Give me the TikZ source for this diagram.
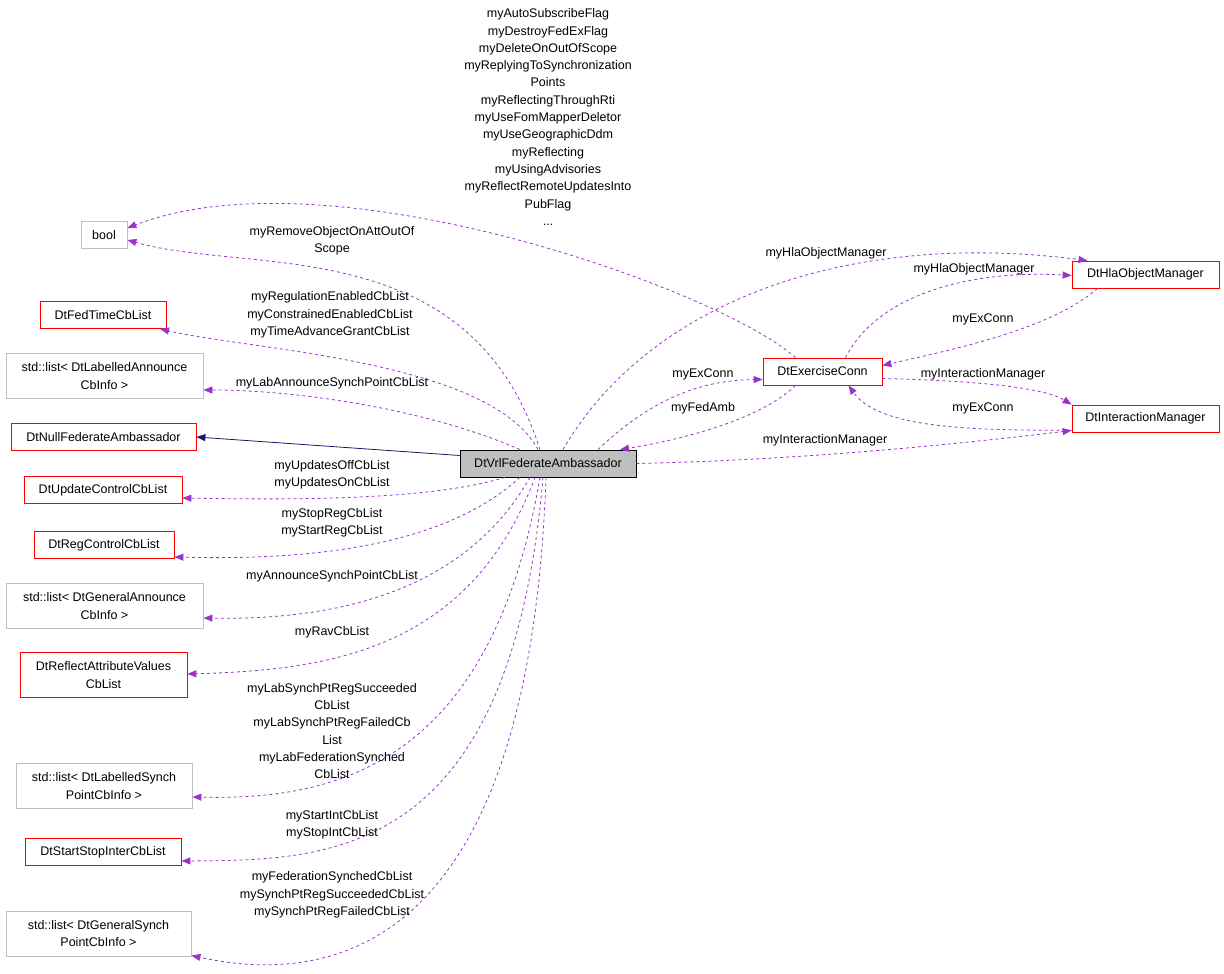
\documentclass[tikz,border=0pt]{standalone}
\usepackage{fontspec}
\setmainfont{Liberation Sans}
\usetikzlibrary{arrows.meta}
\definecolor{edgep}{HTML}{9A32CD}
\definecolor{navy}{HTML}{191970}
\definecolor{gbord}{HTML}{BFBFBF}
\begin{document}
\begin{tikzpicture}[x=1pt,y=-1pt,
  every node/.style={font=\fontsize{12.5}{17.3}\selectfont,inner sep=0pt},
  box/.style={draw=red,line width=0.8pt,minimum height=27pt,align=center,inner xsep=4pt},
  gbox/.style={draw=gbord,line width=0.8pt,minimum height=27pt,align=center,inner xsep=4pt},
  lbl/.style={align=center},
  dep/.style={draw=edgep,dashed,line width=0.8pt,-{Triangle[length=9pt,width=7pt]}},
  inh/.style={draw=navy,line width=0.8pt,-{Triangle[length=9pt,width=7pt]}}]
\useasboundingbox (0,0) rectangle (1224,974);
\node[gbox,minimum width=46pt] (bool) at (104,235) {bool};
\node[box,minimum width=126pt] (fed) at (103,315) {DtFedTimeCbList};
\node[gbox,minimum width=197pt,minimum height=45pt] (la) at (104.5,376) {std::list< DtLabelledAnnounce\\CbInfo >};
\node[box,minimum width=185pt] (null) at (103.5,437) {DtNullFederateAmbassador};
\node[box,minimum width=158pt] (upd) at (103,490) {DtUpdateControlCbList};
\node[box,minimum width=140pt] (reg) at (104,545) {DtRegControlCbList};
\node[gbox,minimum width=197pt,minimum height=45pt] (ga) at (104.5,606) {std::list< DtGeneralAnnounce\\CbInfo >};
\node[box,minimum width=167pt,minimum height=45pt] (rf) at (103.5,675) {DtReflectAttributeValues\\CbList};
\node[gbox,minimum width=176pt,minimum height=45pt] (ls) at (104,786) {std::list< DtLabelledSynch\\PointCbInfo >};
\node[box,minimum width=156pt] (ss) at (103,852) {DtStartStopInterCbList};
\node[gbox,minimum width=185pt,minimum height=45pt] (gs) at (98.5,933.5) {std::list< DtGeneralSynch\\PointCbInfo >};
\node[draw=black,fill=gbord,line width=0.8pt,minimum width=176pt,minimum height=27pt] (vrl) at (548,463.5) {DtVrlFederateAmbassador};
\node[box,minimum width=119pt] (ex) at (822.5,371.5) {DtExerciseConn};
\node[box,minimum width=147pt] (hla) at (1145.5,274.5) {DtHlaObjectManager};
\node[box,minimum width=147pt] (im) at (1145.5,418.5) {DtInteractionManager};

\draw[dep] ([xshift=-27pt]ex.north) .. controls (720,290) and (330,150) .. ([yshift=7pt]bool.east);
\draw[dep] ([xshift=-8pt]vrl.north) .. controls (470,230) and (250,275) .. ([yshift=-5pt]bool.east);
\draw[dep] ([xshift=-10pt]vrl.north) .. controls (490,360) and (250,350) .. ([xshift=57pt]fed.south);
\draw[dep] ([xshift=-28pt]vrl.north) .. controls (430,410) and (300,390) .. ([yshift=-14pt]la.east);
\draw[inh] ([yshift=8pt]vrl.west) -- (null.east);
\draw[dep] ([xshift=-43pt]vrl.south) .. controls (430,500) and (300,500) .. ([yshift=-8pt]upd.east);
\draw[dep] ([xshift=-28pt]vrl.south) .. controls (440,550) and (300,560) .. ([yshift=-12pt]reg.east);
\draw[dep] ([xshift=-18pt]vrl.south) .. controls (460,600) and (320,620) .. ([yshift=-12pt]ga.east);
\draw[dep] ([xshift=-13pt]vrl.south) .. controls (470,650) and (330,670) .. ([yshift=1pt]rf.east);
\draw[dep] ([xshift=-8pt]vrl.south) .. controls (490,770) and (330,800) .. ([yshift=-11pt]ls.east);
\draw[dep] ([xshift=-5pt]vrl.south) .. controls (510,860) and (330,860) .. ([yshift=-9pt]ss.east);
\draw[dep] ([xshift=-2pt]vrl.south) .. controls (530,930) and (350,990) .. ([yshift=-22pt]gs.east);
\draw[dep] ([xshift=50pt]vrl.north) .. controls (650,400) and (700,380) .. ([yshift=-8pt]ex.west);
\draw[dep] ([xshift=-27pt]ex.south) .. controls (760,420) and (680,440) .. ([xshift=72pt]vrl.north);
\draw[dep] ([xshift=15pt]vrl.north) .. controls (650,300) and (850,230) .. ([xshift=-58pt]hla.north);
\draw[dep] ([xshift=23pt]ex.north) .. controls (880,290) and (980,270) .. ([yshift=-1pt]hla.west);
\draw[dep] ([xshift=-48pt]hla.south) .. controls (1050,330) and (950,350) .. ([yshift=6pt]ex.east);
\draw[dep] ([yshift=-7pt]ex.east) .. controls (950,380) and (1040,385) .. (im.north west);
\draw[dep] ([yshift=2pt]im.south west) .. controls (980,430) and (880,430) .. ([xshift=26pt]ex.south);
\draw[dep] (vrl.east) .. controls (800,460) and (950,445) .. ([yshift=-12pt]im.west);

\node[lbl] at (548,117) {myAutoSubscribeFlag\\myDestroyFedExFlag\\myDeleteOnOutOfScope\\myReplyingToSynchronization\\Points\\myReflectingThroughRti\\myUseFomMapperDeletor\\myUseGeographicDdm\\myReflecting\\myUsingAdvisories\\myReflectRemoteUpdatesInto\\PubFlag\\...};
\node[lbl] at (332,241) {myRemoveObjectOnAttOutOf\\Scope};
\node[lbl] at (330,315) {myRegulationEnabledCbList\\myConstrainedEnabledCbList\\myTimeAdvanceGrantCbList};
\node[lbl] at (332,383) {myLabAnnounceSynchPointCbList};
\node[lbl] at (332,475) {myUpdatesOffCbList\\myUpdatesOnCbList};
\node[lbl] at (332,523) {myStopRegCbList\\myStartRegCbList};
\node[lbl] at (332,576) {myAnnounceSynchPointCbList};
\node[lbl] at (332,632) {myRavCbList};
\node[lbl] at (332,731) {myLabSynchPtRegSucceeded\\CbList\\myLabSynchPtRegFailedCb\\List\\myLabFederationSynched\\CbList};
\node[lbl] at (332,825) {myStartIntCbList\\myStopIntCbList};
\node[lbl] at (332,895) {myFederationSynchedCbList\\mySynchPtRegSucceededCbList\\mySynchPtRegFailedCbList};
\node[lbl] at (703,374) {myExConn};
\node[lbl] at (703,408) {myFedAmb};
\node[lbl] at (826,253) {myHlaObjectManager};
\node[lbl] at (974,269) {myHlaObjectManager};
\node[lbl] at (983,319) {myExConn};
\node[lbl] at (983,374) {myInteractionManager};
\node[lbl] at (983,408) {myExConn};
\node[lbl] at (825,440) {myInteractionManager};
\end{tikzpicture}
\end{document}
